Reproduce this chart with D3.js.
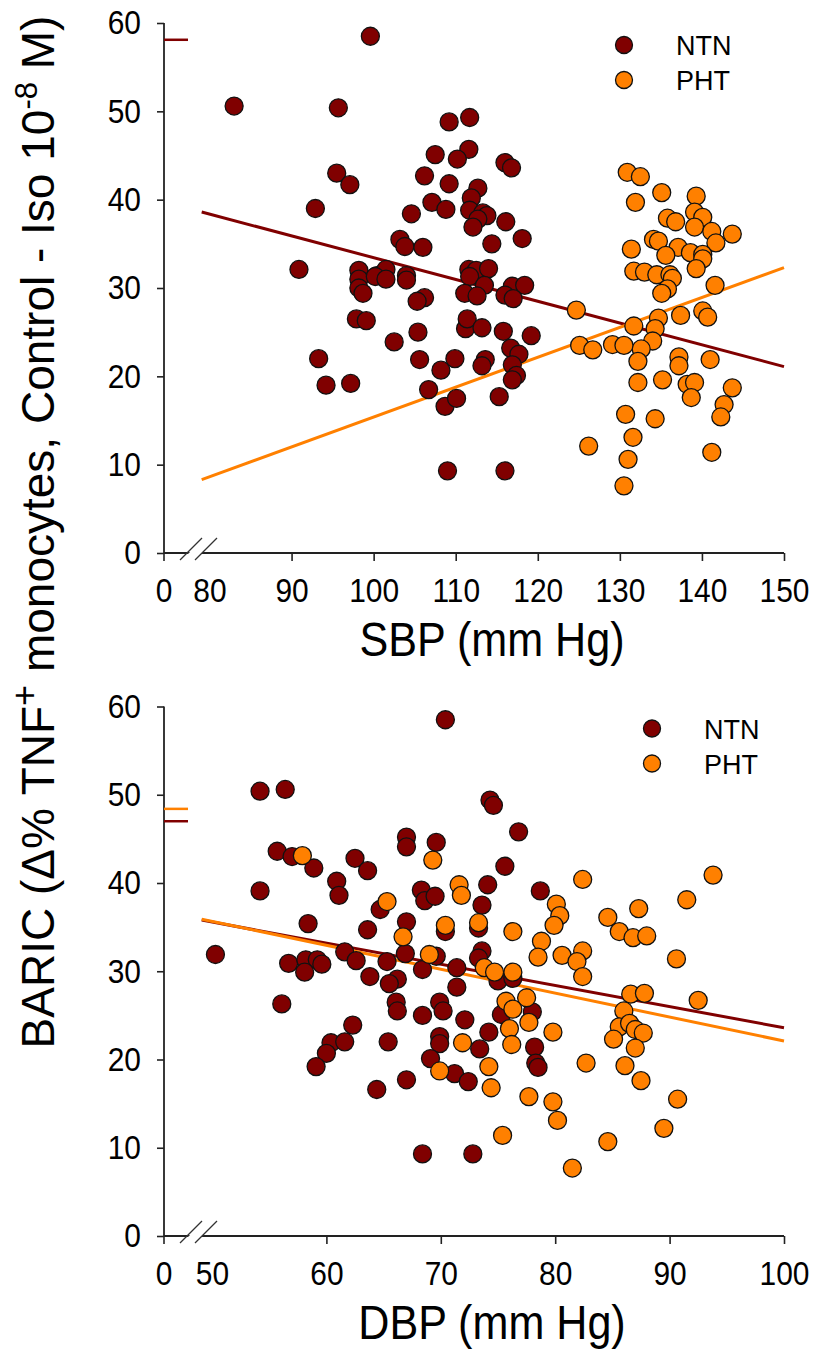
<html>
<meta charset="utf-8">
<style>
body { margin: 0; background: #fff; }
text { font-family: "Liberation Sans", Arial, sans-serif; fill: #000; }
.axis text { font-size: 34px; }
.axis line { stroke: #222; stroke-width: 1.6; }
.axis path { display: none; }
</style>
<body>
<script src="https://cdn.jsdelivr.net/npm/d3@7/dist/d3.min.js"></script>
<script>

var colors = {NTN: '#800000', PHT: '#ff8000'};

/* [SBP, BARIC] */
var sbp_ntn = [
  [99.6,58.5],[83.0,50.6],[95.7,50.4],[95.5,43.0],[97.1,41.7],[92.9,39.0],[90.9,32.1],[98.2,32.0],
  [100.4,31.4],[98.2,31.0],[98.2,30.0],[98.7,29.4],[97.9,26.5],[99.1,26.3],[93.3,22.0],[94.2,19.0],
  [97.2,19.2],[109.2,48.8],[111.7,49.3],[107.5,45.1],[111.6,45.7],[110.2,44.6],[116.0,44.2],[116.8,43.6],
  [106.2,42.7],[109.2,41.8],[112.7,41.3],[111.9,40.2],[107.1,39.7],[108.8,38.9],[111.7,38.8],[113.3,38.5],
  [113.8,38.2],[112.7,37.8],[104.6,38.4],[116.1,37.5],[112.1,36.9],[103.2,35.5],[103.8,34.7],[106.0,34.6],
  [114.4,35.0],[118.1,35.6],[101.5,32.1],[100.2,31.3],[101.5,31.0],[104.0,31.4],[104.0,30.9],[111.6,32.1],
  [112.5,32.0],[114.0,32.2],[111.7,31.3],[113.5,30.3],[111.1,29.4],[112.6,29.1],[116.9,30.2],[118.4,30.3],
  [116.0,29.2],[117.0,28.8],[106.2,28.9],[105.3,28.5],[102.5,23.9],[105.4,25.0],[105.6,21.9],[108.2,20.7],
  [109.9,22.0],[106.7,18.5],[108.7,16.6],[110.1,17.5],[111.2,25.4],[111.4,26.5],[113.2,25.5],[113.6,21.9],
  [113.2,21.2],[115.8,25.1],[119.2,24.6],[116.7,23.2],[117.7,22.5],[116.9,21.3],[117.4,20.1],[116.9,19.6],
  [115.3,17.7],[109.0,9.3],[116.0,9.3]
];
var sbp_pht = [
  [124.7,27.5],[125.1,23.5],[126.7,23.0],[126.2,12.1],[130.9,43.1],[132.5,42.6],[131.9,39.7],[135.1,40.8],
  [139.3,40.4],[139.1,38.6],[140.1,38.0],[135.8,37.9],[136.8,37.5],[139.1,36.9],[141.2,36.4],[143.7,36.1],
  [141.7,35.1],[134.1,35.5],[134.7,35.3],[131.4,34.4],[137.1,34.6],[138.6,34.0],[140.1,33.8],[140.1,33.3],
  [135.6,33.7],[139.3,32.2],[131.7,31.9],[133.0,31.8],[134.5,31.5],[136.1,31.5],[136.4,31.1],[135.8,29.9],
  [135.1,29.4],[141.6,30.3],[137.4,26.9],[140.1,27.4],[140.7,26.7],[134.7,26.6],[134.3,25.4],[131.7,25.7],
  [134.0,24.0],[132.6,23.1],[132.2,21.7],[129.1,23.6],[130.5,23.5],[137.2,22.2],[137.2,21.2],[141.0,21.9],
  [132.2,19.3],[135.2,19.6],[138.2,19.1],[139.1,19.3],[138.7,17.6],[143.7,18.7],[142.7,16.8],[142.3,15.4],
  [130.7,15.7],[134.3,15.2],[131.6,13.1],[131.0,10.6],[141.2,11.4],[130.5,7.6]
];

/* [DBP, BARIC] */
var dbp_ntn = [
  [54.2,50.4],[56.4,50.6],[55.7,43.6],[57.0,43.0],[58.9,41.7],[60.9,40.2],[62.5,42.8],[63.6,41.4],
  [54.2,39.1],[61.1,38.6],[64.7,37.0],[58.4,35.4],[63.6,34.7],[50.3,31.9],[56.7,30.9],[58.2,31.3],
  [59.2,31.3],[59.6,30.8],[58.1,29.9],[61.6,32.2],[62.6,31.2],[63.8,29.4],[56.1,26.3],[62.3,23.9],
  [60.4,21.9],[61.6,22.0],[60.0,20.7],[59.1,19.2],[64.4,16.6],[70.4,58.5],[74.3,49.4],[74.6,48.8],
  [76.8,45.8],[67.0,45.2],[67.0,44.1],[69.6,44.6],[75.6,41.9],[74.1,39.8],[78.7,39.1],[68.3,39.2],
  [68.6,38.0],[69.5,38.5],[73.6,37.5],[67.0,35.6],[70.4,34.5],[73.3,34.9],[66.9,32.0],[69.6,31.7],
  [73.6,32.3],[73.3,31.5],[65.3,31.1],[66.2,29.1],[65.5,28.6],[68.4,30.2],[71.4,30.4],[75.0,28.9],
  [76.3,29.2],[71.4,28.2],[66.1,26.5],[66.2,25.5],[69.9,26.5],[70.2,25.5],[68.4,25.0],[72.1,24.5],
  [75.3,25.1],[78.0,25.4],[65.4,22.0],[69.9,22.6],[69.9,21.8],[74.2,23.1],[73.4,21.2],[78.2,21.4],
  [78.3,19.6],[78.5,19.1],[69.1,20.1],[71.2,18.4],[72.4,17.5],[67.0,17.7],[68.4,9.3],[72.8,9.3]
];
var dbp_pht = [
  [57.9,43.1],[69.3,42.6],[71.6,39.8],[82.4,40.4],[71.8,38.6],[65.3,37.9],[80.1,37.6],[80.4,36.3],
  [79.9,35.2],[70.4,35.2],[73.3,35.5],[76.3,34.5],[66.7,33.9],[78.8,33.4],[78.5,31.6],[80.6,31.8],
  [82.4,32.3],[81.9,31.1],[82.4,29.4],[69.0,31.9],[73.8,30.4],[74.7,29.9],[76.3,29.9],[75.7,26.6],
  [77.5,27.0],[76.3,25.7],[77.7,24.2],[76.0,23.5],[79.8,23.1],[71.9,21.9],[76.2,21.7],[69.9,18.7],
  [74.2,19.2],[74.4,16.8],[79.8,15.2],[77.7,15.8],[80.2,13.1],[75.4,11.4],[82.7,19.6],[81.5,7.7],
  [93.8,40.9],[91.5,38.1],[87.3,37.1],[84.6,36.1],[85.6,34.5],[86.8,33.8],[88.0,34.0],[90.6,31.4],
  [86.6,27.4],[87.8,27.5],[92.5,26.7],[86.0,25.5],[85.6,23.7],[86.5,24.1],[87.0,23.4],[87.7,23.0],
  [85.1,22.3],[87.0,21.3],[86.1,19.3],[87.5,17.6],[90.7,15.5],[89.5,12.2],[84.6,10.7]
];

/* regression lines, [x, BARIC] at both ends */
var sbp_fit_ntn = [[79.05,38.6],[150,21.1]];
var sbp_fit_pht = [[79.05,8.3],[150,32.3]];
var dbp_fit_ntn = [[49.1,35.8],[100,23.6]];
var dbp_fit_pht = [[49.1,35.9],[100,22.1]];

/* short marks on the y axis */
var sbp_marks = [{group: 'NTN', value: 58.1}];
var dbp_marks = [{group: 'PHT', value: 48.4}, {group: 'NTN', value: 47.0}];

var y_ticks = [0,10,20,30,40,50,60];
var sbp_ticks = [80,90,100,110,120,130,140,150];
var dbp_ticks = [50,60,70,80,90,100];
var groups = ['NTN','PHT'];

/********************/
var width = 817, height = 1355,
    x_left = 164, x_right = 784,
    radius = 9,
    squeeze = 0.88;   // the original lettering is a bit condensed

var svg = d3.select("body").append("svg")
    .attr("width", width)
    .attr("height", height);

function panel(o) {
    var g = svg.append("g");
    var x = d3.scaleLinear().domain(o.xdomain).range([o.x0, x_right]);
    var y = d3.scaleLinear().domain([0, 60]).range([o.bottom, o.top]);

    // axes
    var ya = g.append("g").attr("class", "axis")
        .attr("transform", "translate(" + x_left + ",0)")
        .call(d3.axisLeft(y).tickValues(y_ticks).tickSize(7).tickPadding(16));
    ya.selectAll(".tick text")
        .attr("x", -23 / squeeze)
        .attr("transform", "scale(" + squeeze + ",1)");
    var xa = g.append("g").attr("class", "axis")
        .attr("transform", "translate(0," + o.bottom + ")")
        .call(d3.axisBottom(x).tickValues(o.xticks).tickSize(8).tickPadding(17));
    // no tick mark on the first value after the break
    xa.selectAll(".tick line").filter(function(d, i) { return i == 0; }).remove();
    // the "0" at the origin
    var zero = xa.append("g").attr("class", "tick").attr("transform", "translate(" + x_left + ",0)");
    zero.append("line").attr("y2", 8);
    zero.append("text").attr("y", 25).attr("dy", "0.71em").attr("text-anchor", "middle").text("0");
    xa.selectAll(".tick text").attr("transform", "scale(" + squeeze + ",1)");

    g.append("line").attr("x1", x_left).attr("x2", x_left).attr("y1", o.top).attr("y2", o.bottom)
        .attr("stroke", "#222").attr("stroke-width", 1.8);
    g.append("line").attr("x1", x_left).attr("x2", x_right).attr("y1", o.bottom).attr("y2", o.bottom)
        .attr("stroke", "#222").attr("stroke-width", 1.8);

    // axis break
    var b = o.bottom;
    g.append("polygon")
        .attr("points", [[182,b+7],[204,b-15],[217,b-15],[195,b+7]].join(" "))
        .attr("fill", "#fff");
    [[180,202],[195,217]].forEach(function(s) {
        g.append("line").attr("x1", s[0]).attr("y1", b + 7).attr("x2", s[1]).attr("y2", b - 15)
            .attr("stroke", "#333").attr("stroke-width", 1.2);
    });

    // marks on the y axis
    g.selectAll(".mark").data(o.marks).enter().append("line")
        .attr("x1", x_left).attr("x2", x_left + 24)
        .attr("y1", function(d) { return y(d.value); })
        .attr("y2", function(d) { return y(d.value); })
        .attr("stroke", function(d) { return colors[d.group]; })
        .attr("stroke-width", 2.5);

    // fit lines
    var line = d3.line().x(function(d) { return x(d[0]); }).y(function(d) { return y(d[1]); });
    [[o.fit_ntn, 'NTN'], [o.fit_pht, 'PHT']].forEach(function(f) {
        g.append("path").attr("d", line(f[0])).attr("fill", "none")
            .attr("stroke", colors[f[1]]).attr("stroke-width", 3);
    });

    // points
    [[o.ntn, 'NTN'], [o.pht, 'PHT']].forEach(function(s) {
        g.selectAll(null).data(s[0]).enter().append("circle")
            .attr("cx", function(d) { return x(d[0]); })
            .attr("cy", function(d) { return y(d[1]); })
            .attr("r", radius)
            .attr("fill", colors[s[1]])
            .attr("stroke", "#111").attr("stroke-width", 1.3);
    });

    // legend
    groups.forEach(function(k, i) {
        var ly = o.top + 22 + i * 35;
        g.append("circle").attr("cx", o.legend_x).attr("cy", ly).attr("r", 8.5)
            .attr("fill", colors[k]).attr("stroke", "#111").attr("stroke-width", 1.3);
        g.append("text").attr("x", o.legend_x + 52).attr("y", ly + 10)
            .style("font-size", "27px").text(k);
    });

    // x title
    g.append("text")
        .attr("transform", "translate(492," + (o.bottom + 103) + ") scale(" + squeeze + ",1)")
        .attr("text-anchor", "middle").style("font-size", "49px").text(o.xtitle);
}

panel({top: 23, bottom: 553, x0: 209.5, xdomain: [80, 150], xticks: sbp_ticks,
       ntn: sbp_ntn, pht: sbp_pht, fit_ntn: sbp_fit_ntn, fit_pht: sbp_fit_pht,
       marks: sbp_marks, legend_x: 624, xtitle: "SBP (mm Hg)"});
panel({top: 706.5, bottom: 1236, x0: 212, xdomain: [50, 100], xticks: dbp_ticks,
       ntn: dbp_ntn, pht: dbp_pht, fit_ntn: dbp_fit_ntn, fit_pht: dbp_fit_pht,
       marks: dbp_marks, legend_x: 652, xtitle: "DBP (mm Hg)"});

// y title, shared by both panels
var yt = svg.append("text")
    .attr("transform", "translate(54,532) rotate(-90)")
    .attr("text-anchor", "middle")
    .style("font-size", "46px");
yt.append("tspan").text("BARIC (\u0394% TNF");
yt.append("tspan").attr("dy", -17).style("font-size", "36px").text("+");
yt.append("tspan").attr("dy", 17).text(" monocytes, Control - Iso 10");
yt.append("tspan").attr("dy", -17).style("font-size", "31px").text("-8");
yt.append("tspan").attr("dy", 17).text(" M)");

</script>
</html>
